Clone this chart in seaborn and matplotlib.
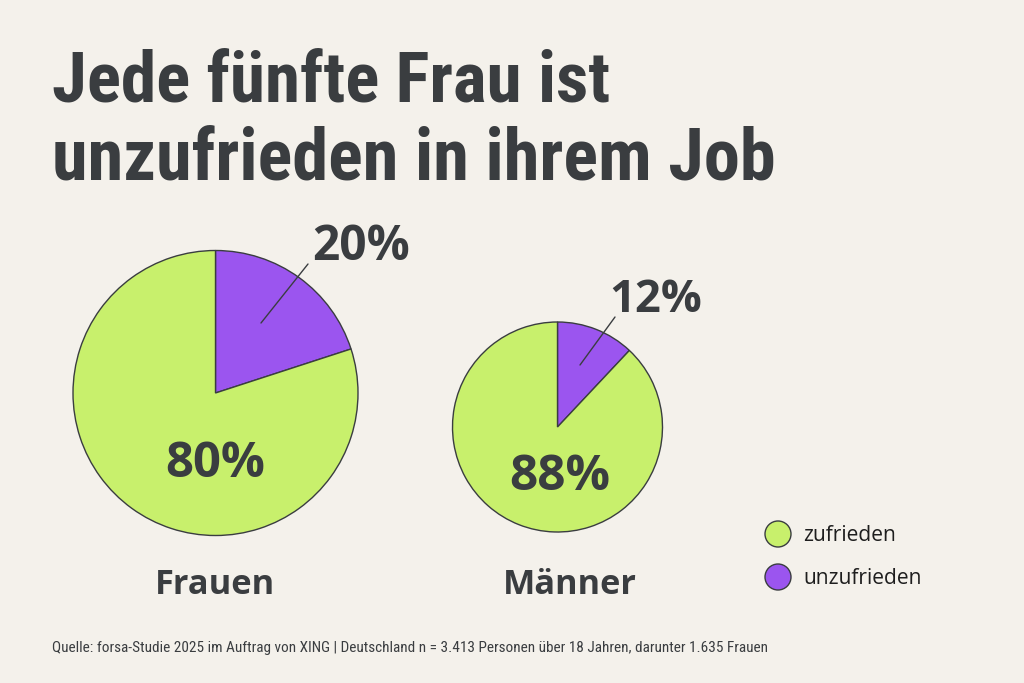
import matplotlib
matplotlib.use("Agg")
import matplotlib.pyplot as plt
from matplotlib import font_manager
from matplotlib.patches import Circle
import seaborn as sns

# ---- data ----
groups = ["Frauen", "Männer"]
categories = ["unzufrieden", "zufrieden"]
frauen_values = [20, 80]
maenner_values = [12, 88]
legend_labels = ["zufrieden", "unzufrieden"]
title_lines = ["Jede fünfte Frau ist", "unzufrieden in ihrem Job"]
source = "Quelle: forsa-Studie 2025 im Auftrag von XING | Deutschland n = 3.413 Personen über 18 Jahren, darunter 1.635 Frauen"

BG = "#F4F1EB"
GREEN = "#C8F06C"
PURPLE = "#9B55EF"
DARK = "#3A3D40"

sns.set_theme(style="white", rc={"axes.facecolor": BG, "figure.facecolor": BG})
names = {f.name for f in font_manager.fontManager.ttflist}
cond = None
for cand in ["Roboto Condensed", "Liberation Sans Narrow", "Noto Sans"]:
    if cand in names:
        cond = cand
        break
if cond is None:
    cond = "DejaVu Sans"
wide = "Open Sans" if "Open Sans" in names else "DejaVu Sans"
plt.rcParams["font.family"] = [cond, "DejaVu Sans"]

fig = plt.figure(figsize=(10.24, 6.83), dpi=100)
ax = fig.add_axes([0, 0, 1, 1])
H = 683
palette = sns.color_palette([PURPLE, GREEN])

def pie(values, cx, cy, r):
    ax.pie(values, colors=palette, startangle=90, counterclock=False,
           center=(cx, H - cy), radius=r, frame=True,
           wedgeprops=dict(edgecolor=DARK, linewidth=1.0))

pie(frauen_values, 215.5, 393, 142.5)
pie(maenner_values, 557.5, 427, 105)
ax.set_xlim(0, 1024)
ax.set_ylim(0, 683)
ax.set_aspect("equal")
ax.axis("off")

fig.canvas.draw()
renderer = fig.canvas.get_renderer()

def fit_text(x, y, s, width, size, weight="bold", ha="left", va="baseline", color=DARK, family=None, **kw):
    fam = [family, "DejaVu Sans"] if family else [cond, "DejaVu Sans"]
    t = ax.text(x, H - y, s, fontsize=size, fontweight=weight, ha=ha, va=va,
                color=color, family=fam, **kw)
    w = t.get_window_extent(renderer).width
    if width:
        t.set_fontsize(size * width / w)
    return t

# title
fit_text(52, 102, title_lines[0], 558, 48)
fit_text(52, 179, title_lines[1], 723, 48)

# percentages
fit_text(361, 260, f"{frauen_values[0]}%", 98, 34, ha="center", family=wide)
fit_text(215, 477, f"{frauen_values[1]}%", 100, 34, ha="center", family=wide)
fit_text(656, 312, f"{maenner_values[0]}%", 93, 34, ha="center", family=wide)
fit_text(560, 490, f"{maenner_values[1]}%", 101, 34, ha="center", family=wide)

# leader lines
ax.plot([261, 308], [H - 323, H - 264], color=DARK, lw=1.0)
ax.plot([580, 615], [H - 365, H - 317], color=DARK, lw=1.0)

# group labels
fit_text(215, 594, groups[0], 120, 30, ha="center", family=wide)
fit_text(570, 594, groups[1], 134, 30, ha="center", family=wide)

# legend
for i, (lab, col) in enumerate(zip(legend_labels, [GREEN, PURPLE])):
    cy = 534 + i * 43
    ax.add_patch(Circle((778, H - cy), 13, facecolor=col, edgecolor=DARK, lw=1.0))
    fit_text(803, cy + 7, lab, 93 if i == 0 else 119, 16, weight="normal",
             color="#1E1E1E", family=wide)

# source
fit_text(52, 652, source, 714, 10, weight="normal")

fig.savefig("out.png", dpi=100, facecolor=BG)
